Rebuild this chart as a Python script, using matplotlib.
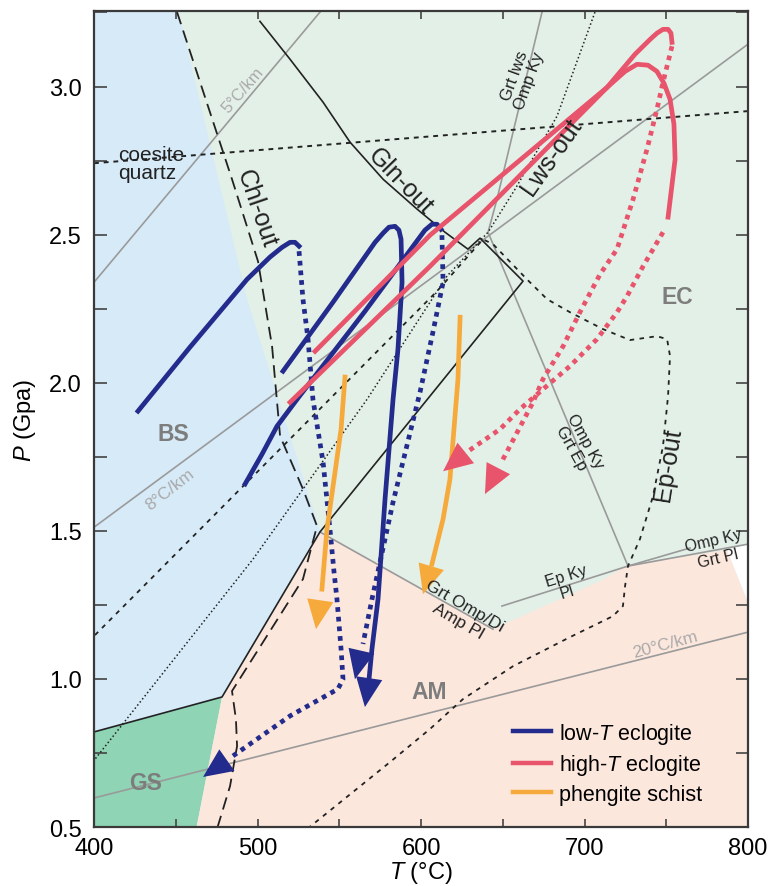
import numpy as np
import matplotlib.pyplot as plt
from matplotlib.patches import Polygon, FancyArrowPatch
from matplotlib.lines import Line2D
from matplotlib.ticker import FormatStrFormatter

plt.rcParams['font.family'] = ['Liberation Sans', 'DejaVu Sans']
plt.rcParams['mathtext.fontset'] = 'custom'
plt.rcParams['mathtext.rm'] = 'Liberation Sans'
plt.rcParams['mathtext.it'] = 'Liberation Sans:italic'

# colours
c_bs = '#d6eaf8'
c_ec = '#e3f0e7'
c_am = '#fce7dd'
c_gs = '#8fd4b4'
c_low = '#232c8c'
c_high = '#e8546c'
c_phen = '#f6aa3c'
c_grey = '#9a9a9a'
c_lab = '#7d7d7d'

# ---- facies fields (T in degC, P in GPa) ----
bs_T = [400, 451.4, 493.6, 538.2, 478.3, 400]
bs_P = [3.26, 3.26, 2.282, 1.499, 0.939, 0.821]
gs_T = [400, 478.3, 462.4, 400]
gs_P = [0.821, 0.939, 0.49, 0.49]
am_T = [462.4, 478.3, 538.2, 644.0, 709.5, 726.6, 787.2, 800, 800]
am_P = [0.49, 0.939, 1.499, 1.168, 1.330, 1.384, 1.435, 1.259, 0.49]
blank_T = [787.2, 800, 800]
blank_P = [1.435, 1.455, 1.259]

# ---- geotherms ----
g5_T, g5_P = [400.6, 538.2], [2.343, 3.251]
g8_T, g8_P = [400, 800], [1.512, 3.143]
g20_T, g20_P = [400, 800], [0.598, 1.158]

# ---- reaction curves ----
coe_T, coe_P = [400, 800], [2.741, 2.917]
chl_T = [450.8, 484.4, 500.3, 508.9, 513.8, 527.8, 536.4, 527.8, 484.4, 486.8, 487.5, 483.2, 475.2]
chl_P = [3.251, 2.687, 2.410, 2.123, 1.820, 1.641, 1.516, 1.337, 0.959, 0.864, 0.773, 0.638, 0.493]
gln_T = [501.5, 519.9, 540.1, 556.6, 576.8, 597.6, 614.7, 628.7, 636.1, 662.4, 538.2, 478.3, 400]
gln_P = [3.220, 3.092, 2.947, 2.812, 2.687, 2.586, 2.508, 2.451, 2.488, 2.343, 1.496, 0.939, 0.821]
lws_T = [706.4, 683.2, 657.5, 641.0, 615.9, 567.0, 497.2, 400.6]
lws_P = [3.251, 2.900, 2.653, 2.508, 2.360, 1.944, 1.404, 0.729]
ep_T = [400.6, 609.8, 637.9, 644.0, 664.8, 677.1, 691.1, 711.3, 727.8, 744.3, 750.5, 752.3,
        751.1, 748.0, 741.9, 733.9, 726.6, 724.8, 723.5, 717.4, 691.1, 656.3, 625.7, 605.5,
        581.0, 530.3]
ep_P = [1.148, 2.309, 2.484, 2.468, 2.349, 2.282, 2.238, 2.181, 2.144, 2.157, 2.147, 2.090,
        1.955, 1.786, 1.617, 1.472, 1.381, 1.313, 1.246, 1.212, 1.141, 1.043, 0.932, 0.831,
        0.719, 0.493]
grt_lws_T = [674.0, 656.3, 646.5, 641.0, 726.6]
grt_lws_P = [3.251, 2.846, 2.620, 2.508, 1.381]
grt_pl_T, grt_pl_P = [726.6, 800], [1.381, 1.455]
omp_ky_T, omp_ky_P = [726.6, 764.5], [1.381, 1.442]
ep_ky_T, ep_ky_P = [649.5, 726.6], [1.246, 1.381]
amp_pl_T, amp_pl_P = [538.2, 644.0], [1.496, 1.168]

# ---- P-T paths ----
# low-T eclogite
low1_T = [426.9, 458.7, 493.6, 507.6, 515.0, 519.9, 522.9, 525.4]
low1_P = [1.904, 2.120, 2.349, 2.424, 2.457, 2.474, 2.474, 2.461]
low1r_T = [525.4, 527.8, 530.9, 533.9, 540.1, 544.3, 546.8, 548.6, 551.1, 552.3, 549.2, 519.9, 485.0]
low1r_P = [2.444, 2.282, 2.147, 1.944, 1.732, 1.506, 1.361, 1.269, 1.101, 0.999, 0.966, 0.875, 0.740]
low1_tip = (466.7, 0.669)

low2_T = [515.6, 546.2, 571.9, 576.8, 580.4, 584.1, 586.5, 587.8, 588.4, 585.9, 582.9, 578.0,
          573.7, 570.0, 568.2]
low2_P = [2.039, 2.272, 2.474, 2.505, 2.525, 2.528, 2.515, 2.484, 2.339, 2.113, 1.944, 1.607,
          1.269, 1.101, 0.999]
low2_tip = (565.7, 0.905)

low3_T = [492.4, 502.8, 511.9, 524.2, 565.7, 602.4, 606.7, 609.8, 612.2]
low3_P = [1.658, 1.759, 1.853, 1.944, 2.241, 2.515, 2.535, 2.535, 2.518]
low3r_T = [612.8, 613.5, 607.3, 599.4, 582.9, 570.0, 564.5]
low3r_P = [2.498, 2.339, 2.171, 1.968, 1.597, 1.269, 1.118]
low3_tip = (559.6, 0.999)

# high-T eclogite
high1_T = [519.9, 605.5, 713.8, 730.9, 740.1, 744.3, 748.0, 751.1, 752.9, 753.5]
high1_P = [1.934, 2.393, 2.997, 3.109, 3.159, 3.180, 3.193, 3.193, 3.180, 3.149]
high1r_T = [753.5, 748.0, 744.3, 738.2, 729.7, 719.9, 709.5, 697.2, 686.9, 674.6, 668.5, 649.5]
high1r_P = [3.136, 3.014, 2.923, 2.788, 2.619, 2.451, 2.366, 2.238, 2.123, 2.012, 1.934, 1.735]
high1_tip = (639.1, 1.624)

high2_T = [535.2, 605.5, 713.8, 724.8, 732.1, 738.8, 744.3, 748.6, 752.3, 754.7, 755.4, 751.1]
high2_P = [2.106, 2.498, 2.997, 3.051, 3.075, 3.072, 3.051, 3.011, 2.957, 2.873, 2.754, 2.559]
high2r_T = [748.0, 735.8, 726.0, 719.9, 707.6, 691.1, 674.6, 660.6, 648.3, 628.1]
high2r_P = [2.508, 2.393, 2.292, 2.238, 2.147, 2.056, 1.978, 1.911, 1.843, 1.766]
high2_tip = (613.5, 1.701)

# phengite schist
phen1_T = [553.5, 551.1, 546.8, 542.5, 539.4]
phen1_P = [2.019, 1.843, 1.674, 1.506, 1.303]
phen1_tip = (535.8, 1.168)
phen2_T = [623.9, 622.6, 617.7, 613.5, 606.7]
phen2_P = [2.221, 2.012, 1.674, 1.540, 1.388]
phen2_tip = (601.2, 1.286)

fig = plt.figure(figsize=(7.84, 8.87), dpi=100)
ax = fig.add_axes([0.1199, 0.0665, 0.8342, 0.9200])
ax.set_facecolor(c_ec)

# fields
for fx, fy, fc in [(bs_T, bs_P, c_bs), (gs_T, gs_P, c_gs), (am_T, am_P, c_am), (blank_T, blank_P, 'white')]:
    ax.add_patch(Polygon(np.column_stack([fx, fy]), closed=True, facecolor=fc, edgecolor='none', zorder=0))

# geotherms and grey reactions
for gx, gy in [(g5_T, g5_P), (g8_T, g8_P), (g20_T, g20_P), (grt_lws_T, grt_lws_P),
               (grt_pl_T, grt_pl_P), (omp_ky_T, omp_ky_P), (ep_ky_T, ep_ky_P), (amp_pl_T, amp_pl_P)]:
    ax.plot(gx, gy, color=c_grey, lw=1.2, zorder=1)

# black reaction lines
ax.plot(coe_T, coe_P, color='#222222', lw=1.4, dashes=(2.5, 2.5), zorder=2)
ax.plot(chl_T, chl_P, color='#222222', lw=1.3, dashes=(7, 3.7), zorder=2)
ax.plot(gln_T, gln_P, color='#222222', lw=1.2, zorder=2)
ax.plot(lws_T, lws_P, color='#222222', lw=1.1, dashes=(1, 1.6), zorder=2)
ax.plot(ep_T, ep_P, color='#222222', lw=1.3, dashes=(2.5, 3), zorder=2)


def head(start, tip, color):
    ax.add_patch(FancyArrowPatch(start, tip, arrowstyle='-|>,head_length=21,head_width=9.5',
                                 mutation_scale=1, color=color, lw=0,
                                 shrinkA=0, shrinkB=0, zorder=5))


lw_path = 3.4
dots = (1, 1.05)

# low-T eclogite
ax.plot(low1_T, low1_P, color=c_low, lw=lw_path, zorder=4)
ax.plot(low1r_T, low1r_P, color=c_low, lw=lw_path, dashes=dots, zorder=4)
head((low1r_T[-1], low1r_P[-1]), low1_tip, c_low)
ax.plot(low2_T, low2_P, color=c_low, lw=lw_path, zorder=4)
head((low2_T[-1], low2_P[-1]), low2_tip, c_low)
ax.plot(low3_T, low3_P, color=c_low, lw=lw_path, zorder=4)
ax.plot(low3r_T, low3r_P, color=c_low, lw=lw_path, dashes=dots, zorder=4)
head((low3r_T[-1], low3r_P[-1]), low3_tip, c_low)

# high-T eclogite
ax.plot(high1_T, high1_P, color=c_high, lw=lw_path, zorder=4)
ax.plot(high1r_T, high1r_P, color=c_high, lw=lw_path, dashes=dots, zorder=4)
head((high1r_T[-1], high1r_P[-1]), high1_tip, c_high)
ax.plot(high2_T, high2_P, color=c_high, lw=lw_path, zorder=4)
ax.plot(high2r_T, high2r_P, color=c_high, lw=lw_path, dashes=dots, zorder=4)
head((high2r_T[-1], high2r_P[-1]), high2_tip, c_high)

# phengite schist
ax.plot(phen1_T, phen1_P, color=c_phen, lw=lw_path, zorder=4)
head((phen1_T[-1], phen1_P[-1]), phen1_tip, c_phen)
ax.plot(phen2_T, phen2_P, color=c_phen, lw=lw_path, zorder=4)
head((phen2_T[-1], phen2_P[-1]), phen2_tip, c_phen)

# field names
for name, tx, ty in [('BS', 448.3, 1.830), ('EC', 756.6, 2.292), ('AM', 604.9, 0.959), ('GS', 431.8, 0.649)]:
    ax.text(tx, ty, name, color=c_lab, fontsize=16.5, fontweight='bold', ha='center', va='center', zorder=6)

# reaction labels
lab = dict(ha='center', va='center', color='#222222', zorder=6)
ax.text(587.6, 2.681, 'Gln-out', fontsize=18, rotation=-46, **lab)
ax.text(679.9, 2.766, 'Lws-out', fontsize=18, rotation=55, **lab)
ax.text(499.5, 2.590, 'Chl-out', fontsize=18, rotation=-71, **lab)
ax.text(751.3, 1.728, 'Ep-out', fontsize=18, rotation=81, **lab)
ax.text(661.6, 3.030, 'Grt lws\nOmp Ky', fontsize=12, rotation=70, linespacing=1.0, **lab)
ax.text(696.2, 1.793, 'Omp Ky\nGrt Ep', fontsize=12, rotation=-61, linespacing=1.0, **lab)
ax.text(626.9, 1.249, 'Grt Omp/Di', fontsize=12.5, rotation=-30, **lab)
ax.text(622.8, 1.196, 'Amp Pl', fontsize=12.5, rotation=-30, **lab)
ax.text(688.7, 1.350, 'Ep Ky', fontsize=11.5, rotation=17, **lab)
ax.text(689.3, 1.296, 'Pl', fontsize=11.5, rotation=17, **lab)
ax.text(778.6, 1.469, 'Omp Ky', fontsize=11.5, rotation=13, **lab)
ax.text(781.7, 1.408, 'Grt Pl', fontsize=11.5, rotation=13, **lab)
ax.text(414.7, 2.771, 'coesite', fontsize=15, ha='left', va='center', color='#222222', zorder=6)
ax.text(414.7, 2.711, 'quartz', fontsize=15, ha='left', va='center', color='#222222', zorder=6)

geo = dict(ha='center', va='center', color='#aaaaaa', zorder=6)
ax.text(491.1, 2.991, '5°C/km', fontsize=12, rotation=49, **geo)
ax.text(446.5, 1.641, '8°C/km', fontsize=12.5, rotation=38, **geo)
ax.text(749.2, 1.118, '20°C/km', fontsize=12.5, rotation=15, **geo)

# legend
handles = [Line2D([], [], color=c_low, lw=3.2),
           Line2D([], [], color=c_high, lw=3.2),
           Line2D([], [], color=c_phen, lw=3.2)]
labels = ['low-$T$ eclogite', 'high-$T$ eclogite', 'phengite schist']
leg = ax.legend(handles, labels, loc='upper left', bbox_to_anchor=(0.64, 0.13), frameon=False,
                fontsize=15.5, handlelength=1.8, handletextpad=0.35, labelspacing=0.3,
                borderpad=0, borderaxespad=0)
leg.set_zorder(7)

# axes
ax.set_xlim(400, 800)
ax.set_ylim(0.5, 3.255)
ax.set_xticks(np.arange(400, 801, 100))
ax.set_xticks(np.arange(450, 800, 100), minor=True)
ax.set_yticks(np.arange(0.5, 3.01, 0.5))
ax.set_yticks(np.arange(0.75, 3.26, 0.5), minor=True)
ax.yaxis.set_major_formatter(FormatStrFormatter('%.1f'))
ax.tick_params(which='both', direction='in', top=True, right=True, labelsize=17,
               color='#444444', width=1.2)
ax.tick_params(axis='x', which='both', length=6, pad=7)
ax.tick_params(axis='y', which='both', length=9, pad=9)
for s in ax.spines.values():
    s.set_color('#3a3a3a')
    s.set_linewidth(1.6)
ax.set_xlabel('$T$ (°C)', fontsize=17, labelpad=0)
ax.set_ylabel('$P$ (Gpa)', fontsize=17, labelpad=8)

fig.savefig('out.png', dpi=100)
